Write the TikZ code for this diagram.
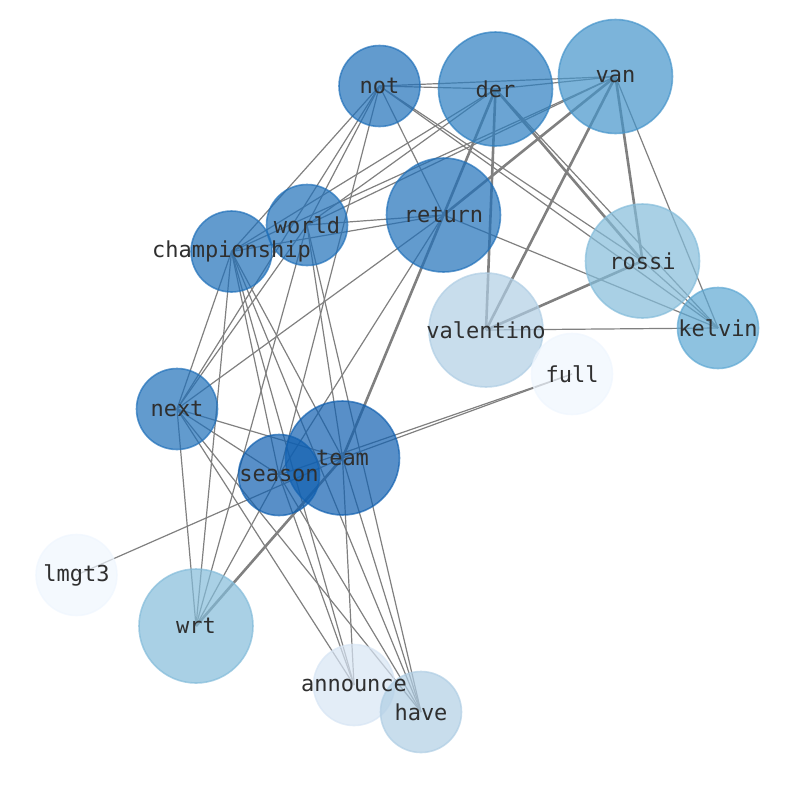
\documentclass[tikz,border=0pt]{standalone}
\usepackage{fontspec}
\setmonofont{DejaVu Sans Mono}
\usetikzlibrary{positioning}
\pgfdeclarelayer{background}
\pgfdeclarelayer{labels}
\pgfsetlayers{background,main,labels}
\definecolor{bluesTeam}{HTML}{1160B0}
\definecolor{bluesDark}{HTML}{2070B9}
\definecolor{bluesDer}{HTML}{2C7EC0}
\definecolor{bluesVan}{HTML}{4594CA}
\definecolor{bluesKelvin}{HTML}{5EA8D3}
\definecolor{bluesMid}{HTML}{84BCDA}
\definecolor{bluesLight}{HTML}{B0CEE4}
\definecolor{bluesPale}{HTML}{D7E5F4}
\definecolor{bluesFaint}{HTML}{EFF6FE}
\definecolor{linkgray}{HTML}{808080}
\definecolor{labelgray}{HTML}{2F2F2F}
\tikzset{word/.style = {circle, inner sep=0pt, minimum size=#1, line width=1.6pt,
                        fill opacity=0.7, draw opacity=0.7},
         wordlabel/.style = {font=\ttfamily\fontsize{22}{26}\selectfont, text=labelgray,
                             inner sep=0pt},
         link/.style = {draw=linkgray, line width=1.2pt},
         heavylink/.style = {draw=linkgray, line width=2.6pt}}

\begin{document}
\begin{tikzpicture}[x=1pt, y=-1pt]
  \useasboundingbox (0, 0) rectangle (794, 790);

  % words
  \node [word=81pt,  draw=bluesDark,   fill=bluesDark]   (not)          at (379.5, 86)  {};
  \node [word=114pt, draw=bluesDer,    fill=bluesDer]    (der)          at (495.5, 89)  {};
  \node [word=114pt, draw=bluesVan,    fill=bluesVan]    (van)          at (615.5, 76.5) {};
  \node [word=114pt, draw=bluesDark,   fill=bluesDark]   (return)       at (443.5, 215) {};
  \node [word=81pt,  draw=bluesDark,   fill=bluesDark]   (world)        at (307, 225)   {};
  \node [word=81pt,  draw=bluesDark,   fill=bluesDark]   (championship) at (231.5, 251.5) {};
  \node [word=114pt, draw=bluesMid,    fill=bluesMid]    (rossi)        at (642.5, 261) {};
  \node [word=114pt, draw=bluesLight,  fill=bluesLight]  (valentino)    at (486, 330)   {};
  \node [word=81pt,  draw=bluesKelvin, fill=bluesKelvin] (kelvin)       at (718, 328)   {};
  \node [word=81pt,  draw=bluesFaint,  fill=bluesFaint]  (full)         at (572, 374)   {};
  \node [word=81pt,  draw=bluesDark,   fill=bluesDark]   (next)         at (177, 409)   {};
  \node [word=114pt, draw=bluesTeam,   fill=bluesTeam]   (team)         at (342.5, 458) {};
  \node [word=81pt,  draw=bluesTeam,   fill=bluesTeam]   (season)       at (279, 475)   {};
  \node [word=81pt,  draw=bluesFaint,  fill=bluesFaint]  (lmgt3)        at (76.5, 575)  {};
  \node [word=114pt, draw=bluesMid,    fill=bluesMid]    (wrt)          at (196, 626)   {};
  \node [word=81pt,  draw=bluesPale,   fill=bluesPale]   (announce)     at (354, 685)   {};
  \node [word=81pt,  draw=bluesLight,  fill=bluesLight]  (have)         at (421, 712)   {};

  % co-occurrence links
  \begin{pgfonlayer}{background}
    \foreach \a/\b in {not/der, not/van, not/return, not/championship, not/world,
                       not/next, not/season, not/rossi, not/kelvin,
                       der/van, der/kelvin, der/world, der/championship,
                       van/kelvin, van/world, van/championship,
                       return/world, return/championship, return/next,
                       return/season, return/kelvin,
                       world/next, world/wrt, world/team, world/have,
                       championship/next, championship/wrt, championship/season,
                       championship/team, championship/have, championship/announce,
                       next/team, next/season, next/wrt, next/announce, next/have,
                       season/wrt, season/have, season/announce, season/full,
                       team/full, team/announce, team/have, team/lmgt3,
                       valentino/kelvin, rossi/kelvin}
      \draw [link] (\a.center) -- (\b.center);
    \foreach \a/\b in {der/return, der/valentino, der/rossi, van/return,
                       van/valentino, van/rossi, return/team, team/wrt,
                       valentino/rossi}
      \draw [heavylink] (\a.center) -- (\b.center);
  \end{pgfonlayer}

  % labels
  \begin{pgfonlayer}{labels}
    \foreach \w in {not, der, van, return, world, championship, rossi, valentino,
                    kelvin, full, next, team, season, lmgt3, wrt, announce, have}
      \node [wordlabel] (\w-label) at (\w.center) {\w};
  \end{pgfonlayer}
\end{tikzpicture}
\end{document}
